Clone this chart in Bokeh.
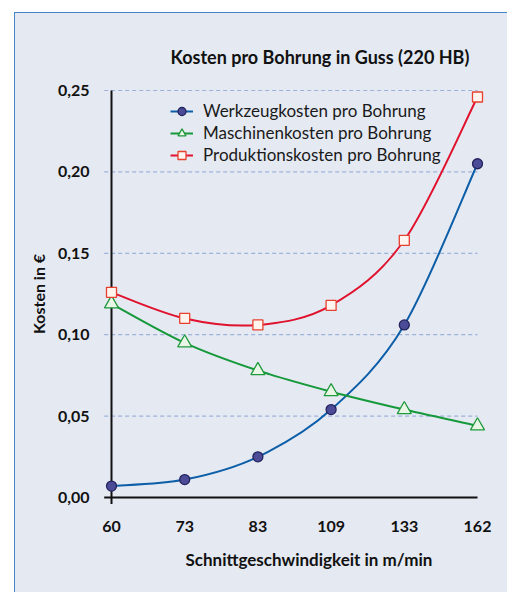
from bokeh.plotting import figure
from bokeh.models import (Range1d, FixedTicker, CustomJSTickFormatter, Title,
                          Legend, LegendItem, ColumnDataSource)
from bokeh.embed import file_html
from bokeh.resources import INLINE

# ---- data -------------------------------------------------------------
speeds = ["60", "73", "83", "109", "133", "162"]          # m/min (x categories)
werkzeug = [0.007, 0.011, 0.025, 0.054, 0.106, 0.205]      # Werkzeugkosten
maschinen = [0.119, 0.095, 0.078, 0.065, 0.054, 0.044]     # Maschinenkosten
produktion = [0.126, 0.110, 0.106, 0.118, 0.158, 0.246]    # Produktionskosten
y_ticks = [0.00, 0.05, 0.10, 0.15, 0.20, 0.25]

title_text = "Kosten pro Bohrung in Guss (220 HB)"
x_title = "Schnittgeschwindigkeit in m/min"
y_title = "Kosten in €"
names = ["Werkzeugkosten pro Bohrung", "Maschinenkosten pro Bohrung",
         "Produktionskosten pro Bohrung"]

# ---- style ------------------------------------------------------------
FONT = "Lato"
PANEL = "#e5e9f2"
EDGE = "#4485c6"
GRID = "#9db2da"
xs = list(range(len(speeds)))

# frame geometry (figure placed at 14,12)
UX = 73.2      # px per category step
UY = 1628.0    # px per euro
X_START = -14 / UX
X_END = 386 / UX
Y_START = -12 / UY
Y_END = 419 / UY

p = figure(width=493, height=580, output_backend="svg", toolbar_location=None,
           x_range=Range1d(X_START, X_END), y_range=Range1d(Y_START, Y_END),
           min_border_left=83, min_border_right=10, min_border_top=66,
           min_border_bottom=83)
p.border_fill_color = None
p.background_fill_color = None
p.outline_line_color = None
p.styles = {
    "position": "fixed", "left": "14px", "top": "12px",
    "background": (f"linear-gradient(to right, {EDGE} 0px, {EDGE} 1.5px, transparent 1.5px), "
                   f"linear-gradient(to bottom, {EDGE} 0px, {EDGE} 1.5px, transparent 1.5px), "
                   f"{PANEL}"),
}
p.xgrid.visible = False
p.ygrid.visible = False

# grid lines (dashed)
gx0 = [xs[0] - 0.1] * (len(y_ticks) - 1)
gx1 = [xs[-1]] * (len(y_ticks) - 1)
p.segment(x0=gx0, y0=y_ticks[1:], x1=gx1, y1=y_ticks[1:], line_color=GRID,
          line_width=1.2, line_dash="4 3")

# axis lines (cross at origin)
p.segment(x0=[xs[0]], y0=[-0.004], x1=[xs[0]], y1=[y_ticks[-1]],
          line_color="#111111", line_width=2)
p.segment(x0=[xs[0] - 0.1], y0=[0], x1=[xs[-1]], y1=[0],
          line_color="#111111", line_width=2)


def bezier_source(vals):
    """Catmull-Rom style smooth segments through the data points."""
    n = len(vals)
    d = dict(x0=[], y0=[], x1=[], y1=[], cx0=[], cy0=[], cx1=[], cy1=[])
    for i in range(n - 1):
        xm, ym = (xs[i - 1], vals[i - 1]) if i > 0 else (xs[i], vals[i])
        xp, yp = (xs[i + 2], vals[i + 2]) if i + 2 < n else (xs[i + 1], vals[i + 1])
        d["x0"].append(xs[i]); d["y0"].append(vals[i])
        d["x1"].append(xs[i + 1]); d["y1"].append(vals[i + 1])
        d["cx0"].append(xs[i] + (xs[i + 1] - xm) / 6)
        d["cy0"].append(vals[i] + (vals[i + 1] - ym) / 6)
        d["cx1"].append(xs[i + 1] - (xp - xs[i]) / 6)
        d["cy1"].append(vals[i + 1] - (yp - vals[i]) / 6)
    return ColumnDataSource(d)


series = [
    (werkzeug, "#0d5ea8", "circle", "#4b4b98", "#24245e", 10),
    (maschinen, "#16993a", "triangle", "#e9f6e6", "#1f9a3c", 14),
    (produktion, "#e0122e", "square", "#fff4ee", "#e8402e", 10),
]
items = []
for (vals, lc, mk, fc, mlc, sz), nm in zip(series, names):
    bz = p.bezier(x0="x0", y0="y0", x1="x1", y1="y1", cx0="cx0", cy0="cy0",
                  cx1="cx1", cy1="cy1", source=bezier_source(vals),
                  line_color=lc, line_width=2)
    sc = p.scatter(xs, vals, marker=mk, size=sz, fill_color=fc,
                   line_color=mlc, line_width=1.3)
    items.append(LegendItem(label=nm, renderers=[bz, sc]))

legend = Legend(items=items, location=(73, 344), padding=0, margin=0,
                spacing=1, glyph_width=23, glyph_height=20, label_height=20,
                label_standoff=10, border_line_color=None,
                background_fill_alpha=0, label_text_font=FONT,
                label_text_font_size="17px", label_text_color="#1a1a1a")
p.add_layout(legend)

# axes
p.xaxis.ticker = FixedTicker(ticks=xs)
p.xaxis.major_label_overrides = {i: s for i, s in zip(xs, speeds)}
p.yaxis.ticker = FixedTicker(ticks=y_ticks)
p.yaxis.formatter = CustomJSTickFormatter(
    code="return tick.toFixed(2).replace('.', ',');")
for ax in (p.xaxis[0], p.yaxis[0]):
    ax.axis_line_color = None
    ax.major_tick_line_color = None
    ax.minor_tick_line_color = None
    ax.major_label_text_font = FONT
    ax.major_label_text_font_style = "bold"
    ax.major_label_text_font_size = "16px"
    ax.major_label_text_color = "#111111"
p.xaxis.major_label_standoff = 5
p.yaxis.major_label_standoff = 2

# titles
p.title.text = title_text
p.title.align = "left"
p.title.offset = 73
p.title.standoff = 22
p.title.text_font = FONT
p.title.text_font_style = "bold"
p.title.text_font_size = "18px"
p.title.text_color = "#111111"

p.add_layout(Title(text=x_title, align="left", offset=88, standoff=24,
                   text_font=FONT, text_font_style="bold",
                   text_font_size="17px", text_color="#111111"), "below")
p.add_layout(Title(text=y_title, align="center", standoff=14,
                   text_font=FONT, text_font_style="bold",
                   text_font_size="16px", text_color="#111111"), "left")

open("out.html", "w").write(file_html(p, INLINE))
